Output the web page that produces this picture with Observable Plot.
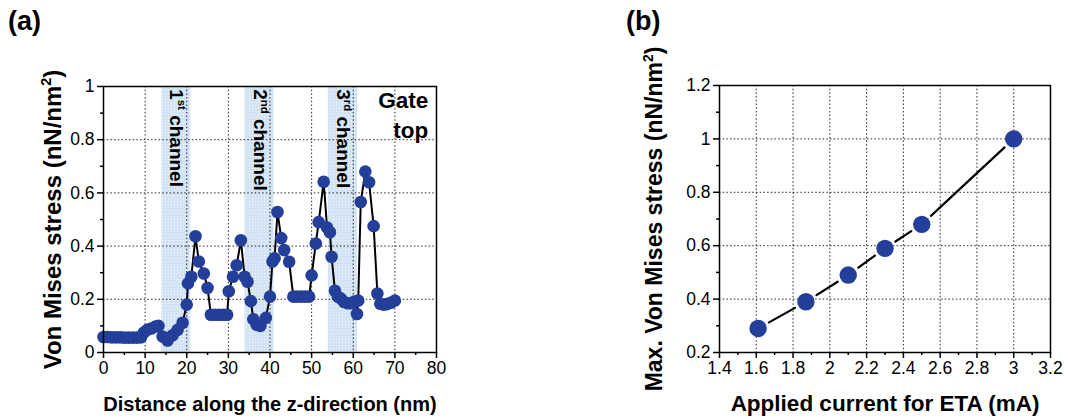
<!DOCTYPE html>
<html><head><meta charset="utf-8">
<script src="https://cdn.jsdelivr.net/npm/d3@7"></script>
<script src="https://cdn.jsdelivr.net/npm/@observablehq/plot@0.6"></script>
<style>
body{margin:0;background:#fff;}
#wrap{position:relative;width:1068px;height:420px;font-family:"Liberation Sans",Arial,sans-serif;overflow:hidden;}
.panel{position:absolute;top:0;}
.tag{position:absolute;font-weight:bold;font-size:27px;line-height:1;}
svg{overflow:visible}
g[aria-label$="axis label"] text{font-weight:bold;}
#pa g[aria-label="x-axis label"] text{font-size:20px;}
#pa g[aria-label="y-axis label"] text{font-size:24px;}
#pb g[aria-label="x-axis label"] text{font-size:22.5px;}
#pb g[aria-label="y-axis label"] text{font-size:23px;}
</style></head><body>
<div id="wrap">
 <div class="tag" style="left:8px;top:8px">(a)</div>
 <div class="tag" style="left:626px;top:8px">(b)</div>
 <div id="pa" class="panel" style="left:0"></div>
 <div id="pb" class="panel" style="left:534px"></div>
</div>
<script>
// ---------- Panel (a) data ----------
const distance = [0,1,2,3,4,5,6,7,8,9,
  9.7,10.5,11.5,12.5,13.2,
  14.2,15.4,16.6,17.8,19,
  20,20.3,21.1,22.1,22.9,24.1,25,
  25.8,26.8,27.8,28.8,29.7,
  30.1,31.1,32,33,33.9,34.6,35.4,36,36.8,37.7,39,40,40.6,41.1,41.8,42.7,43.4,44.6,
  45.6,46.5,47.5,48.5,49.4,
  50,51,51.7,52.9,53.7,54.4,54.8,55.6,56.3,57,57.8,58.7,59.6,60.3,60.9,61.2,
  61.8,62.9,63.8,64.9,65.8,66.5,67.3,68.1,69,70];
const stress = [0.058,0.058,0.057,0.057,0.057,0.056,0.056,0.056,0.056,0.057,
  0.075,0.085,0.09,0.098,0.1,
  0.06,0.045,0.065,0.085,0.112,
  0.18,0.26,0.285,0.437,0.342,0.297,0.243,
  0.142,0.142,0.142,0.142,0.142,
  0.23,0.285,0.328,0.422,0.285,0.266,0.193,0.125,0.104,0.1,0.13,0.21,0.342,0.354,0.528,0.43,0.385,0.341,
  0.21,0.21,0.21,0.21,0.21,
  0.29,0.41,0.49,0.642,0.47,0.452,0.36,0.232,0.21,0.203,0.19,0.185,0.185,0.192,0.145,0.195,
  0.566,0.68,0.64,0.475,0.222,0.183,0.18,0.182,0.187,0.195];
const channelNames = ["1st channel","2nd channel","3rd channel"];
const channelStart = [14,34,54];
const channelEnd = [21,41,61];
const cornerLabel = ["Gate","top"];
const xTicksA = [0,10,20,30,40,50,60,70,80];
const xMinorA = [5,15,25,35,45,55,65,75];
const xGridA = [10,20,30,40,50,60,70];
const yTicksA = [0,0.2,0.4,0.6,0.8,1];
const yMinorA = [0.1,0.3,0.5,0.7,0.9];
const yGridA = [0.2,0.4,0.6,0.8];

// ---------- Panel (b) data ----------
const current = [1.61,1.87,2.1,2.3,2.5,3.0];
const maxStress = [0.29,0.39,0.49,0.59,0.68,1.0];
const xTicksB = [1.4,1.6,1.8,2,2.2,2.4,2.6,2.8,3,3.2];
const xMinorB = [1.5,1.7,1.9,2.1,2.3,2.5,2.7,2.9,3.1];
const xGridB = [1.6,1.8,2,2.2,2.4,2.6,2.8,3];
const yTicksB = [0.2,0.4,0.6,0.8,1,1.2];
const yMinorB = [0.3,0.5,0.7,0.9,1.1];
const yGridB = [0.4,0.6,0.8,1];

const BLUE = "#243f99";
const FONT = "Liberation Sans, Arial, sans-serif";
const gridStyle = {stroke:"#000",strokeOpacity:0.85,strokeDasharray:"1.5,2.2",strokeWidth:1};
const fmt = d => String(+d.toFixed(3));

const dataA = distance.map((d,i)=>({x:d,y:stress[i]}));
const bands = channelNames.map((n,i)=>({name:n,x1:channelStart[i],x2:channelEnd[i],xm:(channelStart[i]+channelEnd[i])/2}));

const plotA = Plot.plot({
  width:534,height:420,marginLeft:103,marginRight:98,marginTop:86,marginBottom:68,
  style:{fontFamily:FONT,fontSize:"17px",color:"#000",background:"transparent",overflow:"visible"},
  x:{domain:[0,80]}, y:{domain:[0,1]},
  marks:[
    Plot.rect(bands,{x1:"x1",x2:"x2",y1:0,y2:1,fill:"url(#dotsA)"}),
    Plot.gridX(xGridA,gridStyle),
    Plot.gridY(yGridA,gridStyle),
    Plot.axisX({ticks:xTicksA,tickSize:6,tickPadding:3,strokeWidth:1.5,fontSize:17.5,tickFormat:fmt,label:"Distance along the z-direction (nm)",labelAnchor:"center",labelOffset:58,labelArrow:"none"}),
    Plot.axisX({ticks:xMinorA,tickSize:3,strokeWidth:1.5,tickFormat:()=>"",label:null}),
    Plot.axisY({ticks:yTicksA,tickSize:6,tickPadding:3,strokeWidth:1.5,fontSize:17.5,tickFormat:fmt,label:"Von Mises stress (nN/nm²)",labelAnchor:"center",labelOffset:60,labelArrow:"none"}),
    Plot.axisY({ticks:yMinorA,tickSize:3,strokeWidth:1.5,tickFormat:()=>"",label:null}),
    Plot.line(dataA,{x:"x",y:"y",stroke:"#000",strokeWidth:2}),
    Plot.dot(dataA,{x:"x",y:"y",r:6.3,fill:BLUE,stroke:null}),
    Plot.text(bands,{x:"xm",y:0.99,text:"name",rotate:90,textAnchor:"start",lineAnchor:"middle",fontWeight:"bold",fontSize:19,fill:"#000"}),
    Plot.text(cornerLabel,{x:78,y:(d,i)=>0.948-i*0.113,text:d=>d,textAnchor:"end",lineAnchor:"middle",fontWeight:"bold",fontSize:22.5,fill:"#000"}),
    Plot.frame({stroke:"#000",strokeWidth:1.5})
  ]
});

const dataB = current.map((d,i)=>({x:d,y:maxStress[i]}));
const segs = current.slice(1).map((x,i)=>({x1:current[i],y1:maxStress[i],x2:x,y2:maxStress[i+1]}));

const plotB = Plot.plot({
  width:534,height:420,marginLeft:185,marginRight:18,marginTop:85,marginBottom:68,
  style:{fontFamily:FONT,fontSize:"17px",color:"#000",background:"transparent",overflow:"visible"},
  x:{domain:[1.4,3.2]}, y:{domain:[0.2,1.2]},
  marks:[
    Plot.gridX(xGridB,gridStyle),
    Plot.gridY(yGridB,gridStyle),
    Plot.axisX({ticks:xTicksB,tickSize:6,tickPadding:3,strokeWidth:1.5,fontSize:17.5,tickFormat:fmt,label:"Applied current for ETA (mA)",labelAnchor:"center",labelOffset:58,labelArrow:"none"}),
    Plot.axisX({ticks:xMinorB,tickSize:3,strokeWidth:1.5,tickFormat:()=>"",label:null}),
    Plot.axisY({ticks:yTicksB,tickSize:6,tickPadding:3,strokeWidth:1.5,fontSize:17.5,tickFormat:fmt,label:"Max. Von Mises stress (nN/nm²)",labelAnchor:"center",labelOffset:74,labelArrow:"none"}),
    Plot.axisY({ticks:yMinorB,tickSize:3,strokeWidth:1.5,tickFormat:()=>"",label:null}),
    Plot.arrow(segs,{x1:"x1",y1:"y1",x2:"x2",y2:"y2",headLength:0,inset:12.5,stroke:"#000",strokeWidth:2.2}),
    Plot.dot(dataB,{x:"x",y:"y",r:8.7,fill:BLUE,stroke:null}),
    Plot.frame({stroke:"#000",strokeWidth:1.5})
  ]
});

// dotted pattern for the channel bands
const NS = "http://www.w3.org/2000/svg";
const defs = document.createElementNS(NS,"defs");
const pat = document.createElementNS(NS,"pattern");
pat.setAttribute("id","dotsA");pat.setAttribute("width","3");pat.setAttribute("height","3");pat.setAttribute("patternUnits","userSpaceOnUse");
const r1 = document.createElementNS(NS,"rect");r1.setAttribute("width","3");r1.setAttribute("height","3");r1.setAttribute("fill","#d2e3f4");
const r2 = document.createElementNS(NS,"rect");r2.setAttribute("width","1");r2.setAttribute("height","1");r2.setAttribute("fill","#f4f8fc");
pat.appendChild(r1);pat.appendChild(r2);defs.appendChild(pat);
plotA.insertBefore(defs,plotA.firstChild);

// superscripts: ordinal labels and the squared unit
function supify(svg){
  svg.querySelectorAll("text").forEach(t=>{
    if (t.querySelector("tspan")) return;
    const s = t.textContent;
    let m = /^(\d)(st|nd|rd) (channel)$/.exec(s);
    let parts = null;
    if (m) parts = [m[1], m[2], " "+m[3]];
    else if (s.includes("²")) { const k = s.indexOf("²"); parts = [s.slice(0,k), "2", s.slice(k+1)]; }
    if (!parts) return;
    t.textContent = "";
    const a = document.createElementNS(NS,"tspan"); a.textContent = parts[0];
    const b = document.createElementNS(NS,"tspan"); b.textContent = parts[1]; b.setAttribute("style","font-size:0.6em"); b.setAttribute("dy","-0.65em");
    const c = document.createElementNS(NS,"tspan"); c.textContent = parts[2]; c.setAttribute("dy","0.39em");
    t.appendChild(a);t.appendChild(b);t.appendChild(c);
  });
}
supify(plotA); supify(plotB);

document.getElementById("pa").appendChild(plotA);
document.getElementById("pb").appendChild(plotB);
</script>
</body></html>
